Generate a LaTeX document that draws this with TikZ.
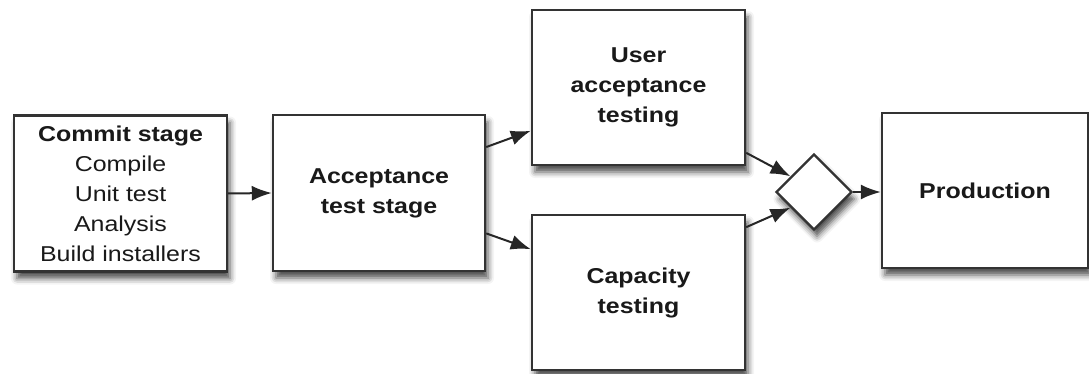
\documentclass[tikz,border=0pt]{standalone}
\usepackage{fontspec}
\setmainfont{Liberation Sans}[FakeStretch=1.16]
\usepackage{tikz}
\usetikzlibrary{arrows.meta,positioning,calc}
\usetikzlibrary{shapes.geometric,shadows.blur}

\begin{document}
\begin{tikzpicture}[x=1pt,y=-1pt,
		stagebox/.style={draw=black!80, line width=2.4pt, fill=white, inner sep=0pt,
			minimum width=213pt, minimum height=156pt, align=center, text=black!90,
			font=\fontsize{21.5}{30}\selectfont\bfseries,
			blur shadow={shadow xshift=3pt, shadow yshift=-7pt, shadow blur radius=6pt, shadow opacity=70}},
		gate/.style={draw=black!80, line width=2.4pt, fill=white, diamond, inner sep=0pt,
			minimum width=76pt, minimum height=76pt,
			blur shadow={shadow xshift=3pt, shadow yshift=-7pt, shadow blur radius=6pt, shadow opacity=70}},
		flow/.style={line width=2pt, draw=black!85, -{Latex[length=20pt,width=15pt]}}]
	\useasboundingbox (0,0) rectangle (1089,374);
	\node[stagebox] (commit) at (120.5,193.5)
		{Commit stage\\\mdseries Compile\\\mdseries Unit test\\\mdseries Analysis\\\mdseries Build installers};
	\node[stagebox, minimum width=212pt] (accept) at (379,193) {Acceptance\\test stage};
	\node[stagebox, minimum height=155pt] (user) at (638.5,87.5) {User\\acceptance\\testing};
	\node[stagebox, minimum height=155pt] (capacity) at (638.5,292.5) {Capacity\\testing};
	\node[gate] (merge) at (814,192) {};
	\node[stagebox, minimum width=206pt, minimum height=155pt] (prod) at (985,190.5) {Production};

	\draw[flow] (commit.east) -- (accept.west);
	\draw[flow] ($(accept.east)!0.58!(accept.north east)$) -- ($(user.west)!0.55!(user.south west)$);
	\draw[flow] ($(accept.east)!0.51!(accept.south east)$) -- ($(capacity.west)!0.55!(capacity.north west)$);
	\draw[flow] ($(user.east)!0.83!(user.south east)$) -- ($(merge.west)!0.4!(merge.north)$);
	\draw[flow] ($(capacity.east)!0.83!(capacity.north east)$) -- ($(merge.west)!0.4!(merge.south)$);
	\draw[flow] (merge.east) -- (merge.east -| prod.west);
%	\draw[flow] (accept) -- (prod);
\end{tikzpicture}
\end{document}
